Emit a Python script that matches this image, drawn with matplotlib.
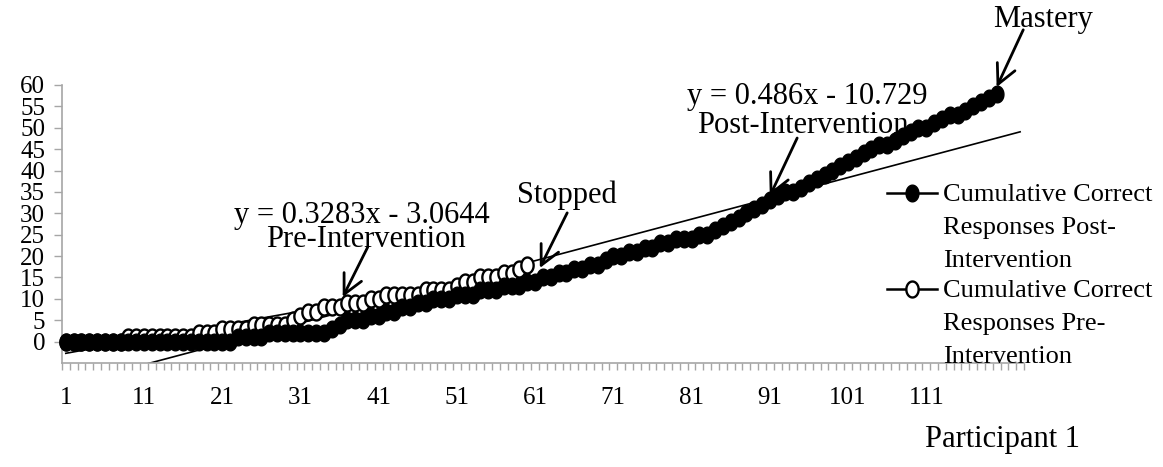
import matplotlib
matplotlib.use('Agg')
import matplotlib.pyplot as plt
from matplotlib.path import Path
import numpy as np

# Times-like serif text, as in the original Excel chart
plt.rcParams['font.family'] = ['Liberation Serif', 'DejaVu Serif']

# cumulative correct responses per session
post_values = [0, 0, 0, 0, 0, 0, 0, 0, 0, 0, 0, 0, 0, 0, 0, 0, 0, 0, 0, 0, 0, 0,
               1, 1, 1, 1,
               2, 2, 2, 2, 2, 2, 2, 2,
               3, 4, 5,
               5, 5, 6, 6,
               7, 7, 8, 8, 9, 9, 10, 10, 10,
               11, 11, 11, 12,
               12, 12, 13, 13, 13, 14, 14,
               15, 15, 16, 16, 17, 17, 18, 18, 19,
               20, 20, 21, 21, 22, 22, 23, 23, 24, 24,
               24, 25, 25, 26, 27,
               28, 29, 30, 31, 32, 33,
               34, 35, 35, 36, 37, 38, 39, 40,
               41, 42, 43, 44, 45, 46, 46, 47, 48,
               49, 50, 50, 51, 52, 53, 53, 54,
               55, 56, 57, 58]

pre_values = [0, 0, 0, 0, 0, 0, 0, 0,
              1, 1, 1, 1, 1, 1, 1, 1, 1,
              2, 2, 2,
              3, 3, 3, 3,
              4, 4, 4, 4, 4,
              5, 6,
              7, 7, 8, 8, 8,
              9, 9, 9,
              10, 10, 11, 11, 11, 11, 11,
              12, 12, 12, 12,
              13, 14, 14, 15, 15, 15, 16,
              16, 17, 18]

n_categories = 123
x_tick_values = [1, 11, 21, 31, 41, 51, 61, 71, 81, 91, 101, 111]
y_tick_values = [0, 5, 10, 15, 20, 25, 30, 35, 40, 45, 50, 55, 60]

# trendline equations shown on the chart (slope, intercept)
post_fit = (0.486, -10.729)
pre_fit = (0.3283, -3.0644)

post_label = 'Cumulative Correct\nResponses Post-\nIntervention'
pre_label = 'Cumulative Correct\nResponses Pre-\nIntervention'

axis_gray = '#a6a6a6'

# the source picture is a bit taller than wide, so its round markers look like ovals
t = np.linspace(0, 2 * np.pi, 64)
oval = Path(np.column_stack([0.77 * np.cos(t), np.sin(t)]), closed=True)

fig = plt.figure(figsize=(11.63, 4.67), dpi=100)
ax = fig.add_axes([0.0532, 0.2227, 0.8273, 0.5953])

post_x = np.arange(1, len(post_values) + 1)
pre_x = np.arange(1, len(pre_values) + 1)

pre_line, = ax.plot(pre_x, pre_values, '-', marker=oval, color='black', mfc='white',
                    mec='black', ms=11.5, mew=1.7, lw=1.8, clip_on=False, zorder=3)
post_line, = ax.plot(post_x, post_values, '-', marker=oval, color='black', ms=12,
                     lw=1.8, clip_on=False, zorder=4)

# linear trendlines
tx_post = np.array([1, n_categories])
ax.plot(tx_post, post_fit[0] * tx_post + post_fit[1], color='black', lw=1.2, zorder=2)
tx_pre = np.array([1, len(pre_values)])
ax.plot(tx_pre, pre_fit[0] * tx_pre + pre_fit[1], color='black', lw=1.2, zorder=2)

# axes
ax.set_xlim(0.5, n_categories + 0.5)
ax.set_ylim(-5, 60)
ax.set_xticks(x_tick_values)
ax.set_xticklabels([str(v) for v in x_tick_values])
ax.set_xticks(np.arange(0.5, n_categories + 1), minor=True)
ax.set_yticks(y_tick_values)
ax.tick_params(axis='x', which='major', length=0, pad=17, labelsize=18)
ax.tick_params(axis='x', which='minor', length=5, width=1, color=axis_gray, direction='out')
ax.tick_params(axis='y', which='major', length=6, width=1, color=axis_gray, pad=6,
               labelsize=18)
for side in ['top', 'right']:
    ax.spines[side].set_visible(False)
for side in ['left', 'bottom']:
    ax.spines[side].set_color(axis_gray)
    ax.spines[side].set_linewidth(1.2)

# annotation arrows and labels
arrow_kw = dict(arrowstyle='->,head_length=0.7,head_width=0.35', color='black', lw=2,
                mutation_scale=20, shrinkA=0, shrinkB=0)
ax.annotate('', xy=(91.0, 34.0), xytext=(94.5, 47.6), arrowprops=arrow_kw,
            annotation_clip=False)
ax.annotate('', xy=(61.6, 17.2), xytext=(65.1, 30.1), arrowprops=arrow_kw,
            annotation_clip=False)
ax.annotate('', xy=(36.4, 10.4), xytext=(39.6, 22.1), arrowprops=arrow_kw,
            annotation_clip=False)
ax.annotate('', xy=(120.0, 59.5), xytext=(123.4, 72.9), arrowprops=arrow_kw,
            annotation_clip=False)

text_kw = dict(ha='center', va='center', fontsize=22, clip_on=False)
ax.text(95.8, 57.4, 'y = 0.486x - 10.729', **text_kw)
ax.text(95.2, 50.6, 'Post-Intervention', **text_kw)
ax.text(65.1, 34.3, 'Stopped', **text_kw)
ax.text(38.9, 29.6, 'y = 0.3283x - 3.0644', **text_kw)
ax.text(39.3, 23.8, 'Pre-Intervention', **text_kw)
ax.text(125.9, 75.2, 'Mastery', **text_kw)

fig.text(0.8616, 0.058, 'Participant 1', ha='center', va='center', fontsize=22)

leg = ax.legend([post_line, pre_line], [post_label, pre_label], loc='upper left',
                bbox_to_anchor=(0.7627, 0.607), bbox_transform=fig.transFigure,
                frameon=False, fontsize=19, handlelength=1.9, handletextpad=0.23,
                labelspacing=0.3, borderpad=0, borderaxespad=0)
for txt in leg.get_texts():
    txt.set_linespacing(1.65)
# put the legend symbol next to the first line of each label, like Excel does
for column in leg._legend_handle_box.get_children():
    for entry in column.get_children():
        entry.align = 'top'

fig.savefig('out.png', dpi=100)
